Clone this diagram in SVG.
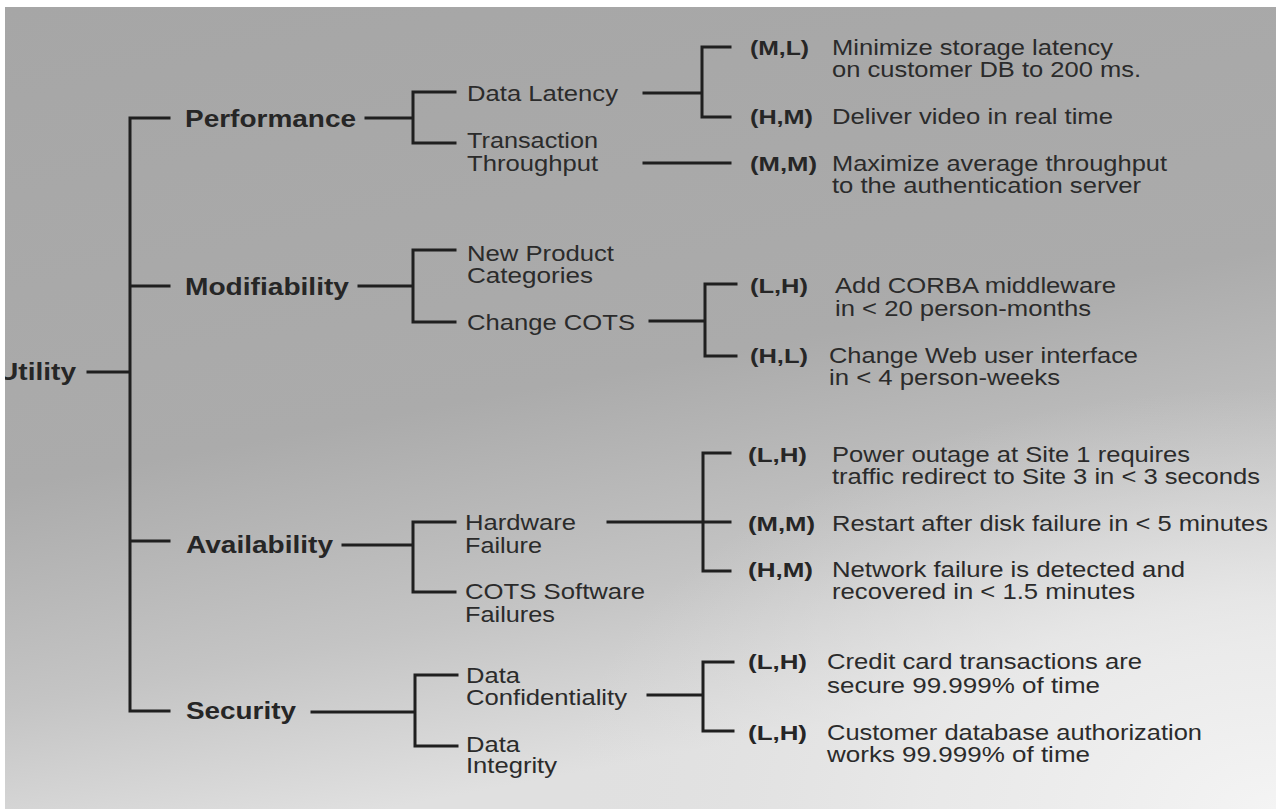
<svg xmlns="http://www.w3.org/2000/svg" width="1276" height="809" viewBox="0 0 1276 809">
<defs>
<linearGradient id="bg" x1="0" y1="0" x2="0.3" y2="1">
<stop offset="0" stop-color="#a6a6a6"/>
<stop offset="0.55" stop-color="#ababab"/>
<stop offset="0.8" stop-color="#c4c4c4"/>
<stop offset="1" stop-color="#e0e0e0"/>
</linearGradient>
<radialGradient id="glow" cx="1" cy="1" r="0.75" gradientUnits="objectBoundingBox" gradientTransform="translate(0.25 0.3) scale(0.75 0.7)">
<stop offset="0" stop-color="#f4f4f4" stop-opacity="1"/>
<stop offset="0.5" stop-color="#ececec" stop-opacity="0.7"/>
<stop offset="1" stop-color="#e0e0e0" stop-opacity="0"/>
</radialGradient>
<clipPath id="frame"><rect x="5" y="7" width="1271" height="802"/></clipPath>
<style>
.ln{stroke:#1f1f1f;stroke-width:3;fill:none;stroke-linecap:square}
.t1{font-family:"Liberation Sans",Arial,sans-serif;font-weight:bold;font-size:24px;fill:#262626}
.t2{font-family:"Liberation Sans",Arial,sans-serif;font-size:22px;fill:#2b2b2b}
.r{font-family:"Liberation Sans",Arial,sans-serif;font-weight:bold;font-size:21px;fill:#262626}
.d{font-family:"Liberation Sans",Arial,sans-serif;font-size:22px;fill:#2b2b2b}
</style>
</defs>
<rect x="0" y="0" width="1276" height="809" fill="#ffffff"/>
<rect x="5" y="7" width="1271" height="802" fill="url(#bg)"/>
<rect x="5" y="7" width="1271" height="802" fill="url(#glow)"/>

<g id="connectors">
<path class="ln" d="M88 372 H130 M130 118 V711 M130 118 H169 M130 286 H169 M130 541 H169 M130 711 H169"/>
<path class="ln" d="M366 118 H413 M413 92 V143 M413 92 H455 M413 143 H455"/>
<path class="ln" d="M359 286 H413 M413 250 V322 M413 250 H455 M413 322 H455"/>
<path class="ln" d="M343 545 H413 M413 522 V592 M413 522 H455 M413 592 H455"/>
<path class="ln" d="M312 712 H415 M415 675 V746 M415 675 H457 M415 746 H457"/>
<path class="ln" d="M644 93 H702 M702 47 V117 M702 47 H730 M702 117 H730"/>
<path class="ln" d="M644 163 H730"/>
<path class="ln" d="M650 321 H705 M705 284 V356 M705 284 H736 M705 356 H736"/>
<path class="ln" d="M608 522 H730 M703 453 V571 M703 453 H730 M703 571 H730"/>
<path class="ln" d="M648 695 H703 M703 662 V731 M703 662 H733 M703 731 H733"/>
</g>

<g id="utility" clip-path="url(#frame)"><text class="t1" x="-2" y="380" textLength="78" lengthAdjust="spacingAndGlyphs">Utility</text></g>

<g id="performance"><text class="t1" x="185" y="127" textLength="171" lengthAdjust="spacingAndGlyphs">Performance</text></g>
<g id="modifiability"><text class="t1" x="185" y="295" textLength="164" lengthAdjust="spacingAndGlyphs">Modifiability</text></g>
<g id="availability"><text class="t1" x="186" y="553" textLength="147" lengthAdjust="spacingAndGlyphs">Availability</text></g>
<g id="security"><text class="t1" x="186" y="719" textLength="110" lengthAdjust="spacingAndGlyphs">Security</text></g>

<g id="data-latency"><text class="t2" x="467" y="101" textLength="151" lengthAdjust="spacingAndGlyphs">Data Latency</text></g>
<g id="transaction-throughput">
<text class="t2"><tspan x="467" y="148" textLength="131" lengthAdjust="spacingAndGlyphs">Transaction</tspan><tspan x="467" y="171" textLength="131" lengthAdjust="spacingAndGlyphs">Throughput</tspan></text>
</g>
<g id="new-product-categories">
<text class="t2"><tspan x="467" y="261" textLength="147" lengthAdjust="spacingAndGlyphs">New Product</tspan><tspan x="467" y="283" textLength="126" lengthAdjust="spacingAndGlyphs">Categories</tspan></text>
</g>
<g id="change-cots"><text class="t2" x="467" y="330" textLength="168" lengthAdjust="spacingAndGlyphs">Change COTS</text></g>
<g id="hardware-failure">
<text class="t2"><tspan x="465" y="530" textLength="111" lengthAdjust="spacingAndGlyphs">Hardware</tspan><tspan x="465" y="553" textLength="77" lengthAdjust="spacingAndGlyphs">Failure</tspan></text>
</g>
<g id="cots-software-failures">
<text class="t2"><tspan x="465" y="599" textLength="180" lengthAdjust="spacingAndGlyphs">COTS Software</tspan><tspan x="465" y="622" textLength="90" lengthAdjust="spacingAndGlyphs">Failures</tspan></text>
</g>
<g id="data-confidentiality">
<text class="t2"><tspan x="466" y="683" textLength="54" lengthAdjust="spacingAndGlyphs">Data</tspan><tspan x="466" y="705" textLength="161" lengthAdjust="spacingAndGlyphs">Confidentiality</tspan></text>
</g>
<g id="data-integrity">
<text class="t2"><tspan x="466" y="752" textLength="54" lengthAdjust="spacingAndGlyphs">Data</tspan><tspan x="466" y="773" textLength="91" lengthAdjust="spacingAndGlyphs">Integrity</tspan></text>
</g>

<g id="s1">
<text class="r" x="750" y="55" textLength="59" lengthAdjust="spacingAndGlyphs">(M,L)</text>
<text class="d"><tspan x="832" y="55" textLength="281" lengthAdjust="spacingAndGlyphs">Minimize storage latency</tspan><tspan x="832" y="77" textLength="309" lengthAdjust="spacingAndGlyphs">on customer DB to 200 ms.</tspan></text>
</g>
<g id="s2">
<text class="r" x="750" y="124" textLength="63" lengthAdjust="spacingAndGlyphs">(H,M)</text>
<text class="d" x="832" y="124" textLength="281" lengthAdjust="spacingAndGlyphs">Deliver video in real time</text>
</g>
<g id="s3">
<text class="r" x="750" y="171" textLength="67" lengthAdjust="spacingAndGlyphs">(M,M)</text>
<text class="d"><tspan x="832" y="171" textLength="335" lengthAdjust="spacingAndGlyphs">Maximize average throughput</tspan><tspan x="832" y="193" textLength="309" lengthAdjust="spacingAndGlyphs">to the authentication server</tspan></text>
</g>
<g id="s4">
<text class="r" x="750" y="293" textLength="58" lengthAdjust="spacingAndGlyphs">(L,H)</text>
<text class="d"><tspan x="835" y="293" textLength="281" lengthAdjust="spacingAndGlyphs">Add CORBA middleware</tspan><tspan x="835" y="316" textLength="256" lengthAdjust="spacingAndGlyphs">in &lt; 20 person-months</tspan></text>
</g>
<g id="s5">
<text class="r" x="750" y="363" textLength="58" lengthAdjust="spacingAndGlyphs">(H,L)</text>
<text class="d"><tspan x="829" y="363" textLength="309" lengthAdjust="spacingAndGlyphs">Change Web user interface</tspan><tspan x="829" y="385" textLength="231" lengthAdjust="spacingAndGlyphs">in &lt; 4 person-weeks</tspan></text>
</g>
<g id="s6">
<text class="r" x="748" y="462" textLength="59" lengthAdjust="spacingAndGlyphs">(L,H)</text>
<text class="d"><tspan x="832" y="462" textLength="358" lengthAdjust="spacingAndGlyphs">Power outage at Site 1 requires</tspan><tspan x="832" y="484" textLength="428" lengthAdjust="spacingAndGlyphs">traffic redirect to Site 3 in &lt; 3 seconds</tspan></text>
</g>
<g id="s7">
<text class="r" x="748" y="531" textLength="67" lengthAdjust="spacingAndGlyphs">(M,M)</text>
<text class="d" x="832" y="531" textLength="436" lengthAdjust="spacingAndGlyphs">Restart after disk failure in &lt; 5 minutes</text>
</g>
<g id="s8">
<text class="r" x="748" y="577" textLength="65" lengthAdjust="spacingAndGlyphs">(H,M)</text>
<text class="d"><tspan x="832" y="577" textLength="353" lengthAdjust="spacingAndGlyphs">Network failure is detected and</tspan><tspan x="832" y="599" textLength="303" lengthAdjust="spacingAndGlyphs">recovered in &lt; 1.5 minutes</tspan></text>
</g>
<g id="s9">
<text class="r" x="748" y="669" textLength="59" lengthAdjust="spacingAndGlyphs">(L,H)</text>
<text class="d"><tspan x="827" y="669" textLength="315" lengthAdjust="spacingAndGlyphs">Credit card transactions are</tspan><tspan x="827" y="693" textLength="273" lengthAdjust="spacingAndGlyphs">secure 99.999% of time</tspan></text>
</g>
<g id="s10">
<text class="r" x="748" y="740" textLength="59" lengthAdjust="spacingAndGlyphs">(L,H)</text>
<text class="d"><tspan x="827" y="740" textLength="375" lengthAdjust="spacingAndGlyphs">Customer database authorization</tspan><tspan x="827" y="762" textLength="263" lengthAdjust="spacingAndGlyphs">works 99.999% of time</tspan></text>
</g>
</svg>
